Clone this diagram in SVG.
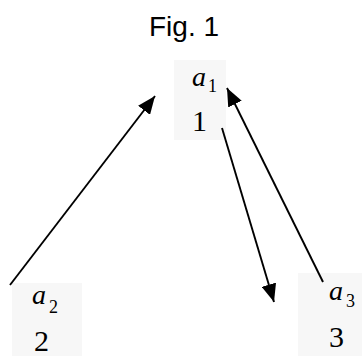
<svg xmlns="http://www.w3.org/2000/svg" width="362" height="356" viewBox="0 0 362 356">
<defs>
<style>
.box{fill:#f7f7f7;stroke:none}
.var{font-family:"Liberation Serif",serif;font-style:italic;font-size:28px;fill:#000}
.sub{font-family:"Liberation Serif",serif;font-size:18px;fill:#000}
.num{font-family:"Liberation Serif",serif;font-size:30px;fill:#000}
.title{font-family:"Liberation Sans",Arial,sans-serif;font-size:28px;fill:#000}
.edge{stroke:#000;stroke-width:1.9;fill:none;marker-end:url(#ah)}
</style>
<marker id="ah" markerUnits="userSpaceOnUse" markerWidth="19" markerHeight="15" refX="18" refY="7.5" orient="auto">
<path d="M0,0 L18,7.5 L0,15 z" fill="#000"/>
</marker>
</defs>
<rect width="362" height="356" fill="#fff"/>
<text class="title" x="184" y="36" text-anchor="middle">Fig. 1</text>
<g id="n1">
<rect class="box" x="174" y="60" width="52" height="80"/>
<text class="var" x="192" y="86">a</text><text class="sub" x="208" y="92">1</text>
<text class="num" x="192" y="131">1</text>
</g>
<g id="n2">
<rect class="box" x="12" y="283" width="70" height="73"/>
<text class="var" x="32" y="304">a</text><text class="sub" x="49" y="313">2</text>
<text class="num" x="34" y="351">2</text>
</g>
<g id="n3">
<rect class="box" x="298" y="273" width="64" height="83"/>
<text class="var" x="329" y="300">a</text><text class="sub" x="346" y="307">3</text>
<text class="num" x="329" y="347">3</text>
</g>
<g id="edges">
<line class="edge" x1="10" y1="285" x2="155" y2="96"/>
<line class="edge" x1="323" y1="282" x2="227" y2="88"/>
<line class="edge" x1="222" y1="128" x2="274" y2="302"/>
</g>
</svg>
